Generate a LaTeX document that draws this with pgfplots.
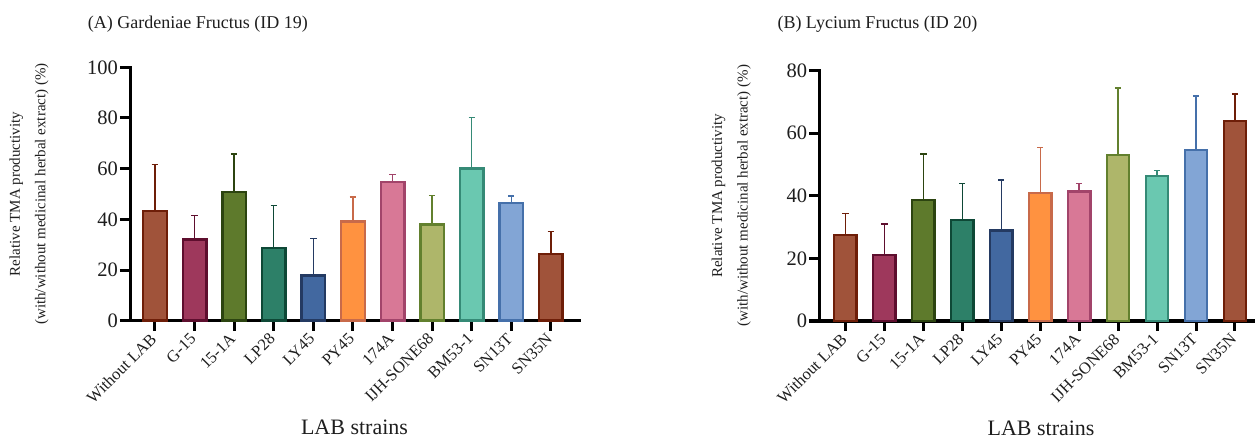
\documentclass[border=0pt]{standalone}
\usepackage{pgfplots}
\pgfplotsset{compat=1.18}
\usepackage{fontspec}
\setmainfont{Liberation Serif}

\definecolor{f1}{HTML}{A0533A}\definecolor{e1}{HTML}{6E1E08}
\definecolor{f2}{HTML}{9E385C}\definecolor{e2}{HTML}{5E0E2E}
\definecolor{f3}{HTML}{5E7A2C}\definecolor{e3}{HTML}{2C4410}
\definecolor{f4}{HTML}{2D8068}\definecolor{e4}{HTML}{0E4836}
\definecolor{f5}{HTML}{4268A0}\definecolor{e5}{HTML}{243A62}
\definecolor{f6}{HTML}{FF9240}\definecolor{e6}{HTML}{C86A4A}
\definecolor{f7}{HTML}{D87896}\definecolor{e7}{HTML}{A2446A}
\definecolor{f8}{HTML}{AEB66A}\definecolor{e8}{HTML}{62802E}
\definecolor{f9}{HTML}{6AC8B0}\definecolor{e9}{HTML}{358A76}
\definecolor{f10}{HTML}{82A5D5}\definecolor{e10}{HTML}{4570AA}
\definecolor{txt}{HTML}{1E1E1E}

% x, value, error (upper), fill, edge
\newcommand{\mybar}[5]{%
  \addplot[fill=#4, draw=#5, line width=2.4bp,
    error bars/.cd, y dir=plus, y explicit,
    error bar style={draw=#5, line width=1.4bp},
    error mark options={draw=#5, rotate=90, mark size=3.2bp, line width=1.4bp}]
    coordinates {(#1,#2) +- (0,#3)};}

\pgfplotsset{
  labstyle/.style={
    scale only axis,
    anchor=south west,
    ybar, /pgf/bar shift=0pt,
    clip=false,
    axis x line=bottom, axis y line=left,
    axis line style={-, line width=3bp, black, line cap=rect},
    tick style={line width=3bp, black},
    major tick length=10bp,
    tick align=outside,
    xtick pos=bottom, ytick pos=left,
    xtick={0,...,10},
    xticklabels={Without LAB, G-15, 15-1A, LP28, LY45, PY45, 174A, IJH-SONE68, BM53-1, SN13T, SN35N},
    xticklabel shift=4bp,
    xticklabel style={rotate=45, anchor=east, font=\fontsize{16.5bp}{18bp}\selectfont, text=txt, inner sep=2bp},
    yticklabel style={font=\fontsize{20.5bp}{22bp}\selectfont, text=txt, inner sep=2bp},
    /pgf/number format/assume math mode=true,
    ymin=0,
    xlabel={LAB strains},
    xlabel style={anchor=center, font=\fontsize{22bp}{24bp}\selectfont, text=txt},
    ylabel={Relative TMA productivity\\(with/without medicinal herbal extract) (\%)},
    ylabel style={anchor=center, align=center, font=\fontsize{15bp}{25.5bp}\selectfont, text=txt},
    title style={anchor=west, font=\fontsize{18bp}{20bp}\selectfont, text=txt},
  }
}

\begin{document}
\begin{tikzpicture}
\useasboundingbox (0bp,0bp) rectangle (1255bp,439bp);

% (A)
\begin{axis}[labstyle,
  at={(130bp,118.3bp)}, width=449bp, height=253.4bp,
  xmin=-0.63, xmax=10.71, ymax=100,
  ytick={0,20,...,100},
  bar width=23.6bp,
  title={(A) Gardeniae Fructus (ID 19)},
  title style={at={(axis description cs:-0.1015,1.147)}},
  xlabel style={at={(axis description cs:0.5,-0.422)}},
  ylabel style={at={(axis description cs:-0.225,0.5)}},
]
\mybar{0}{43.4}{18.3}{f1}{e1}
\mybar{1}{32.0}{9.4}{f2}{e2}
\mybar{2}{50.7}{15.1}{f3}{e3}
\mybar{3}{28.8}{16.7}{f4}{e4}
\mybar{4}{17.8}{14.6}{f5}{e5}
\mybar{5}{39.2}{9.6}{f6}{e6}
\mybar{6}{54.8}{2.8}{f7}{e7}
\mybar{7}{38.0}{11.5}{f8}{e8}
\mybar{8}{60.1}{20.2}{f9}{e9}
\mybar{9}{46.4}{2.8}{f10}{e10}
\mybar{10}{26.3}{9.0}{f1}{e1}
\end{axis}

% (B)
\begin{axis}[labstyle,
  at={(819.3bp,118bp)}, width=435.7bp, height=250.5bp,
  xmin=-0.67, xmax=10.514, ymax=80,
  ytick={0,20,...,80},
  bar width=22.3bp,
  title={(B) Lycium Fructus (ID 20)},
  title style={at={(axis description cs:-0.1040,1.163)}},
  xlabel style={at={(axis description cs:0.509,-0.427)}},
  ylabel style={at={(axis description cs:-0.202,0.5)}},
]
\mybar{0}{27.4}{6.9}{f1}{e1}
\mybar{1}{21.0}{10.0}{f2}{e2}
\mybar{2}{38.6}{14.7}{f3}{e3}
\mybar{3}{32.2}{11.8}{f4}{e4}
\mybar{4}{28.9}{16.1}{f5}{e5}
\mybar{5}{40.8}{14.6}{f6}{e6}
\mybar{6}{41.4}{2.5}{f7}{e7}
\mybar{7}{53.1}{21.3}{f8}{e8}
\mybar{8}{46.4}{1.6}{f9}{e9}
\mybar{9}{54.6}{17.3}{f10}{e10}
\mybar{10}{63.9}{8.6}{f1}{e1}
\end{axis}
\end{tikzpicture}
\end{document}
